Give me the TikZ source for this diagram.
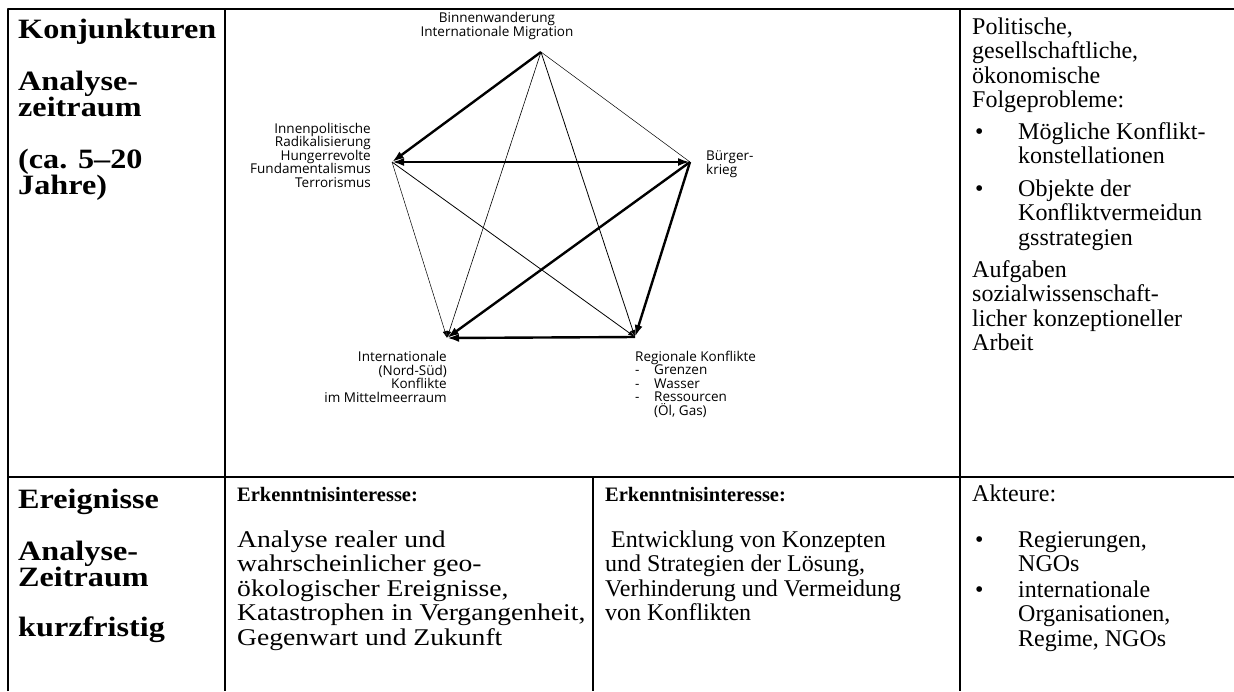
\documentclass[tikz,border=0pt]{standalone}
\usepackage{fontspec}
\setmainfont{Liberation Serif}
\newfontfamily\widefont{Liberation Serif}[FakeStretch=1.15,Ligatures=TeX]
\newfontfamily\diafont{Open Sans}
\usetikzlibrary{arrows.meta,positioning}

\begin{document}
\begin{tikzpicture}[x=1pt,y=-1pt,line join=round,
    bigtip/.tip={Latex[length=12pt,width=8pt]},
    smalltip/.tip={Latex[length=7pt,width=4.5pt]},
    rule/.style={line width=2.2pt},
    strong/.style={line width=2.4pt,-bigtip},
    weak/.style={line width=0.8pt,-smalltip},
    faint/.style={line width=0.5pt},
    lab/.style={font=\diafont\fontsize{13.5}{13.5}\selectfont,inner sep=0pt},
    head/.style={font=\widefont\bfseries\fontsize{28}{26}\selectfont,anchor=base west,align=left,inner sep=0pt},
    body/.style={font=\fontsize{24}{24.5}\selectfont,anchor=base west,align=left,inner sep=0pt},
    wide/.style={body,font=\widefont\fontsize{24}{24.5}\selectfont},
    bodyb/.style={font=\bfseries\fontsize{20.5}{24.5}\selectfont,anchor=base west,inner sep=0pt}]
  \useasboundingbox (0,0) rectangle (1234,691);

  %--- Table rules -----------------------------------------------------------
  \draw[rule] (8,691) -- (8,9) -- (1234,9);
  \draw[rule] (225,9) -- (225,691);
  \draw[rule] (960,9) -- (960,691);
  \draw[rule] (8,477) -- (1234,477);
  \draw[rule] (593,477) -- (593,691);

  %--- Left column (base = last line) ----------------------------------------
  \node[head] (konj) at (18,38) {Konjunkturen};
  \node[head] (zeitA) at (18,116) {Analyse-\\zeitraum};
  \node[head] (dauer) at (18,194) {(ca. 5–20\\Jahre)};
  \node[head] (ereig) at (18,508) {Ereignisse};
  \node[head] (zeitB) at (18,586) {Analyse-\\Zeitraum};
  \node[head] (kurz) at (18,636) {kurzfristig};

  %--- Pentagon of conflicts -------------------------------------------------
  \coordinate (mig) at (541,52);
  \coordinate (innen) at (392,162);
  \coordinate (buerger) at (690,162);
  \coordinate (intl) at (447,338);
  \coordinate (regio) at (635,337);

  \node[lab,anchor=base,align=center] (migtxt) at (497,36)
       {Binnenwanderung\\Internationale Migration};
  \node[lab,anchor=base east,align=right] (innentxt) at (371,187)
       {Innenpolitische\\Radikalisierung\\Hungerrevolte\\Fundamentalismus\\Terrorismus};
  \node[lab,anchor=base west,align=left] (buergertxt) at (706,174) {Bürger-\\krieg};
  \node[lab,anchor=base east,align=right] (intltxt) at (447,402)
       {Internationale\\(Nord-Süd)\\Konflikte\\im Mittelmeerraum};
  \node[lab,anchor=base west,align=left] (regiotxt) at (635,415)
       {Regionale Konflikte\\\makebox[19pt][l]{-}Grenzen\\\makebox[19pt][l]{-}Wasser\\
        \makebox[19pt][l]{-}Ressourcen\\\hspace*{19pt}(Öl, Gas)};

  % thin links
  \draw[faint] (mig) -- (buerger);
  \draw[weak,line width=0.6pt] (mig) -- (intl);
  \draw[weak] (mig) -- (regio);
  \draw[weak,line width=0.5pt] (innen) -- (intl);
  \draw[weak] (innen) -- (regio);
  % strong links
  \draw[strong] (mig) -- (innen);
  \draw[strong,bigtip-bigtip] (innen) -- (buerger);
  \draw[strong] (buerger) -- (intl);
  \draw[strong] (buerger) -- (regio);
  \draw[strong] (regio) -- (intl);

  %--- Right column ----------------------------------------------------------
  \node[body] (folge) at (972,107.5) {Politische,\\gesellschaftliche,\\ökonomische\\Folgeprobleme:};
  \node[body] (dotA) at (975,139) {\textbullet};
  \node[body] (konst) at (1018,163.5) {Mögliche Konflikt-\\konstellationen};
  \node[body] (dotB) at (975,196) {\textbullet};
  \node[body] (objekt) at (1018,245) {Objekte der\\Konfliktvermeidun\\gsstrategien};
  \node[body] (aufg) at (972,350.5) {Aufgaben\\sozialwissenschaft-\\licher konzeptioneller\\Arbeit};

  %--- Lower row -------------------------------------------------------------
  \node[bodyb] (erkA) at (237,501) {Erkenntnisinteresse:};
  \node[wide] (analyse) at (237,645) {Analyse realer und\\wahrscheinlicher geo-\\ökologischer Ereignisse,\\Katastrophen in Vergangenheit,\\Gegenwart und Zukunft};
  \node[bodyb] (erkB) at (605,501) {Erkenntnisinteresse:};
  \node[body] (entw) at (605,620.5) {\ Entwicklung von Konzepten\\und Strategien der Lösung,\\Verhinderung und Vermeidung\\von Konflikten};
  \node[body] (akteure) at (972,501) {Akteure:};
  \node[body] (dotC) at (975,547) {\textbullet};
  \node[body] (regier) at (1018,571.5) {Regierungen,\\NGOs};
  \node[body] (dotD) at (975,597) {\textbullet};
  \node[body] (intorg) at (1018,646) {internationale\\Organisationen,\\Regime, NGOs};
\end{tikzpicture}
\end{document}
